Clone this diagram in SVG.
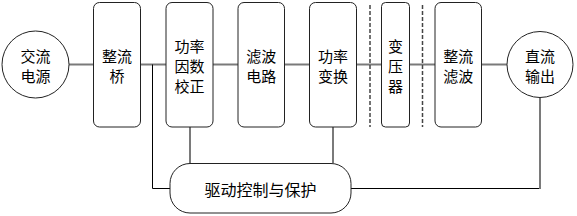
<svg xmlns="http://www.w3.org/2000/svg" width="577" height="216" viewBox="0 0 577 216">
<style>
.box{fill:#fff;stroke:#222;stroke-width:1}
.t{font-family:"Noto Sans CJK SC","Noto Sans",sans-serif;font-size:15px;fill:#000;text-anchor:middle;dominant-baseline:central}
.b{font-size:16px}
.g{stroke:#7a7a7a;stroke-width:2;fill:none}
.k{stroke:#000;stroke-width:1;fill:none}
.d{stroke:#444;stroke-width:1.5;stroke-dasharray:4 2;fill:none}
</style>
<rect width="577" height="216" fill="#fff"/>
<g id="connectors">
<line class="g" x1="69" y1="64.5" x2="507" y2="64.5"/>
<polyline class="k" points="152.5,64.5 152.5,188.5 170,188.5"/>
<line class="g" x1="190" y1="127" x2="190" y2="163"/>
<line class="g" x1="333" y1="127" x2="333" y2="163"/>
<polyline class="k" points="351,188.5 540,188.5"/>
<line class="g" x1="540" y1="98" x2="540" y2="189"/>
<line class="d" x1="370" y1="5" x2="370" y2="127"/>
<line class="d" x1="422.5" y1="5" x2="422.5" y2="127"/>
</g>
<g id="ac"><circle class="box" cx="35.5" cy="64.5" r="33.5"/><text class="t" x="35.5" y="55.5">交流</text><text class="t" x="35.5" y="75.5">电源</text></g>
<g id="bridge"><rect class="box" x="93.5" y="2.5" width="47" height="124.5" rx="6"/><text class="t" x="117" y="55.5">整流</text><text class="t" x="117" y="75.5">桥</text></g>
<g id="pfc"><rect class="box" x="166" y="2.5" width="47" height="124.5" rx="6"/><text class="t" x="189.5" y="45">功率</text><text class="t" x="189.5" y="65">因数</text><text class="t" x="189.5" y="85">校正</text></g>
<g id="filter"><rect class="box" x="238" y="2.5" width="46.5" height="124.5" rx="6"/><text class="t" x="261.25" y="55.5">滤波</text><text class="t" x="261.25" y="75.5">电路</text></g>
<g id="conv"><rect class="box" x="309.5" y="2.5" width="47" height="124.5" rx="6"/><text class="t" x="333" y="55.5">功率</text><text class="t" x="333" y="75.5">变换</text></g>
<g id="xfmr"><rect class="box" x="381.5" y="2.5" width="28" height="124.5" rx="4"/><text class="t" x="395.5" y="45">变</text><text class="t" x="395.5" y="65">压</text><text class="t" x="395.5" y="85">器</text></g>
<g id="rect"><rect class="box" x="435" y="2.5" width="46.5" height="124.5" rx="6"/><text class="t" x="458.25" y="55.5">整流</text><text class="t" x="458.25" y="75.5">滤波</text></g>
<g id="dc"><circle class="box" cx="540" cy="64.5" r="33"/><text class="t" x="540" y="55.5">直流</text><text class="t" x="540" y="75.5">输出</text></g>
<g id="drive"><rect class="box" x="170" y="163.5" width="181" height="49.5" rx="20"/><text class="t b" x="260.5" y="189">驱动控制与保护</text></g>
</svg>
